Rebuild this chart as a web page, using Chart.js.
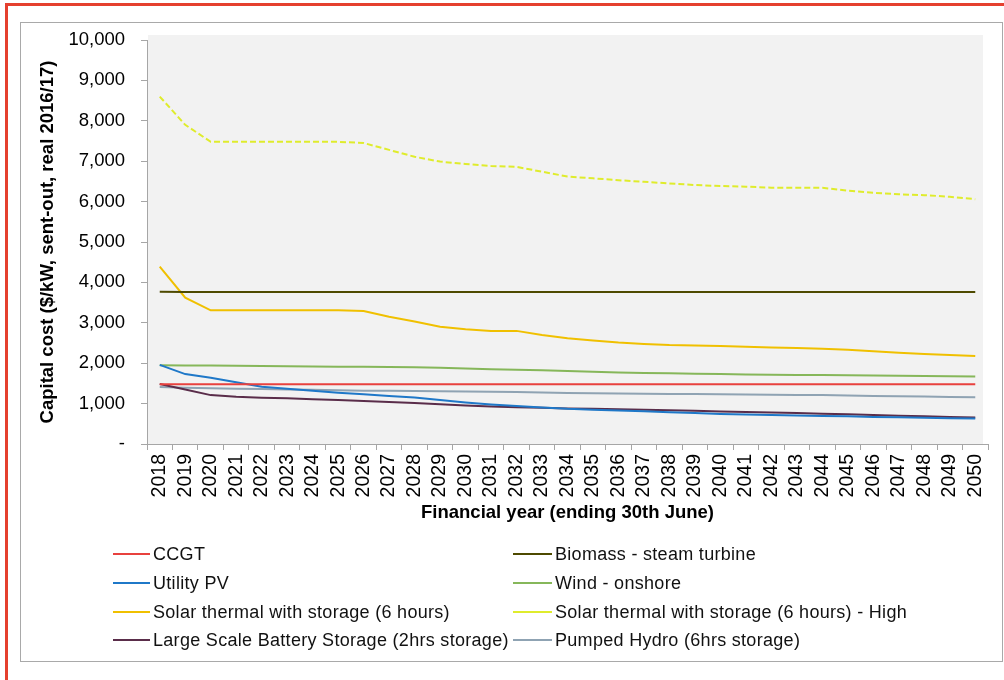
<!DOCTYPE html>
<html>
<head>
<meta charset="utf-8">
<script src="https://cdn.jsdelivr.net/npm/chart.js@4.4.1/dist/chart.umd.min.js"></script>
<style>
  html, body { margin: 0; padding: 0; background: #ffffff; }
  body { width: 1004px; height: 680px; position: relative; overflow: hidden; font-family: "Liberation Sans", Arial, sans-serif; }
  #redTop { position: absolute; left: 5px; top: 3px; width: 999px; height: 3px; background: #e5402f; }
  #redLeft { position: absolute; left: 5px; top: 3px; width: 3px; height: 677px; background: #e5402f; }
  #box { position: absolute; left: 20px; top: 22px; width: 981px; height: 638px; border: 1px solid #a9a9a9; }
  #wrap { position: absolute; left: 0; top: 0; width: 1004px; height: 680px; }
  .lg { position: absolute; font-size: 18px; letter-spacing: 0.3px; color: #111; white-space: nowrap; line-height: 20px; }
  .lg .sw { position: absolute; top: 9px; height: 2px; }
</style>
</head>
<body>
<div id="redTop"></div>
<div id="redLeft"></div>
<div id="box"></div>
<div id="wrap"><canvas id="c" width="1004" height="680"></canvas></div>
<div id="legend"></div>
<script>
const years = ["2018","2019","2020","2021","2022","2023","2024","2025","2026","2027","2028","2029","2030","2031","2032","2033","2034","2035","2036","2037","2038","2039","2040","2041","2042","2043","2044","2045","2046","2047","2048","2049","2050"];

const yTickValues = [0,1000,2000,3000,4000,5000,6000,7000,8000,9000,10000];
const yTickLabels = ["-","1,000","2,000","3,000","4,000","5,000","6,000","7,000","8,000","9,000","10,000"];

const ccgt = [1480,1480,1480,1480,1480,1480,1480,1480,1480,1480,1480,1480,1480,1480,1480,1480,1480,1480,1480,1480,1480,1480,1480,1480,1480,1480,1480,1480,1480,1480,1480,1480,1480];
const biomass = [3770,3760,3760,3760,3760,3760,3760,3760,3760,3760,3760,3760,3760,3760,3760,3760,3760,3760,3760,3760,3760,3760,3760,3760,3760,3760,3760,3760,3760,3760,3760,3760,3760];
const utilityPV = [1960,1730,1640,1530,1420,1370,1320,1270,1230,1190,1150,1090,1030,980,940,905,870,850,830,810,785,765,745,730,715,705,695,685,670,660,650,640,630];
const windOnshore = [1950,1945,1940,1935,1930,1925,1920,1915,1910,1905,1900,1890,1870,1850,1840,1825,1805,1790,1770,1760,1750,1740,1730,1720,1715,1710,1705,1700,1695,1690,1685,1680,1670];
const solarThermal = [4390,3620,3310,3310,3310,3310,3310,3310,3290,3150,3030,2900,2840,2800,2800,2700,2620,2560,2510,2475,2450,2440,2425,2410,2390,2375,2360,2330,2295,2260,2230,2200,2180];
const solarThermalHigh = [8600,7900,7480,7480,7480,7480,7480,7480,7450,7280,7110,6990,6930,6880,6860,6740,6620,6575,6530,6490,6450,6410,6385,6370,6345,6345,6340,6270,6220,6180,6160,6120,6060];
const battery = [1485,1350,1210,1170,1145,1130,1105,1090,1065,1040,1015,985,955,930,910,895,880,870,860,850,835,820,805,795,780,765,750,735,715,700,685,670,655];
const pumpedHydro = [1410,1395,1380,1370,1360,1350,1340,1330,1320,1315,1310,1305,1300,1295,1285,1275,1265,1258,1250,1245,1240,1235,1230,1225,1220,1215,1210,1200,1190,1180,1175,1165,1160];

const seriesNames = ["CCGT","Biomass - steam turbine","Utility PV","Wind - onshore","Solar thermal with storage (6 hours)","Solar thermal with storage (6 hours) - High","Large Scale Battery Storage (2hrs storage)","Pumped Hydro (6hrs storage)"];
const seriesData = [ccgt, biomass, utilityPV, windOnshore, solarThermal, solarThermalHigh, battery, pumpedHydro];
const seriesColors = ["#e8413e","#4e4a00","#1f78c8","#86b75a","#f0c000","#dfec2c","#5a2d4a","#8fa3b3"];
const seriesDash = [[],[],[],[],[],[6,3],[],[]];

const datasets = seriesNames.map((n, i) => ({
  label: n,
  data: seriesData[i],
  borderColor: seriesColors[i],
  backgroundColor: seriesColors[i],
  borderWidth: 2,
  borderDash: seriesDash[i],
  pointRadius: 0,
  tension: 0,
  fill: false
}));

const bgPlugin = {
  id: 'bg',
  beforeDraw(chart) {
    const a = chart.chartArea, ctx = chart.ctx;
    ctx.save();
    ctx.fillStyle = '#f2f2f2';
    ctx.fillRect(a.left + 1, a.top - 5, a.right - a.left - 6, a.bottom - a.top + 5);
    ctx.restore();
  }
};

const axisColor = '#a6a6a6';
const font = "'Liberation Sans', Arial, sans-serif";

new Chart(document.getElementById('c'), {
  type: 'line',
  data: { labels: years, datasets: datasets },
  plugins: [bgPlugin],
  options: {
    responsive: false,
    animation: false,
    layout: { padding: { left: 28, top: 40, right: 16, bottom: 156 } },
    plugins: { legend: { display: false }, tooltip: { enabled: false } },
    scales: {
      x: {
        type: 'category',
        offset: true,
        grid: { display: true, drawOnChartArea: false, drawTicks: true, tickLength: 6, color: axisColor, offset: true },
        border: { display: true, color: axisColor, width: 1 },
        ticks: { autoSkip: false, minRotation: 90, maxRotation: 90, padding: 4, color: '#000', font: { family: font, size: 19.5 } },
        title: { display: true, text: 'Financial year (ending 30th June)', color: '#000', font: { family: font, size: 18.5, weight: 'bold' }, padding: { top: 0, bottom: 0 } },
        afterFit(s) { s.height = 80; }
      },
      y: {
        min: 0, max: 10000,
        afterBuildTicks(s) { s.ticks = yTickValues.map(v => ({ value: v })); },
        grid: { display: true, drawOnChartArea: false, drawTicks: true, tickLength: 6, color: axisColor },
        border: { display: true, color: axisColor, width: 1 },
        ticks: { padding: 16, color: '#000', font: { family: font, size: 18.5 },
          callback(v) { const i = yTickValues.indexOf(v); return i >= 0 ? yTickLabels[i] : ''; } },
        title: { display: true, text: 'Capital cost ($/kW, sent-out, real 2016/17)', color: '#000', font: { family: font, size: 18.5, weight: 'bold' }, padding: { top: 9, bottom: 0 } },
        afterFit(s) { s.width = 119; }
      }
    }
  }
});

// HTML legend, two columns, built from the datasets
const legend = document.getElementById('legend');
const colX = [113, 513];
const rowY = [544, 573, 602, 630];
seriesNames.forEach((n, i) => {
  const col = i % 2, row = Math.floor(i / 2);
  const d = document.createElement('div');
  d.className = 'lg';
  d.style.left = colX[col] + 'px';
  d.style.top = rowY[row] + 'px';
  d.style.paddingLeft = (col === 0 ? 40 : 42) + 'px';
  const sw = document.createElement('span');
  sw.className = 'sw';
  sw.style.left = '0px';
  sw.style.width = (col === 0 ? 37 : 39) + 'px';
  sw.style.background = seriesColors[i];
  d.appendChild(sw);
  d.appendChild(document.createTextNode(n));
  legend.appendChild(d);
});
</script>
</body>
</html>
